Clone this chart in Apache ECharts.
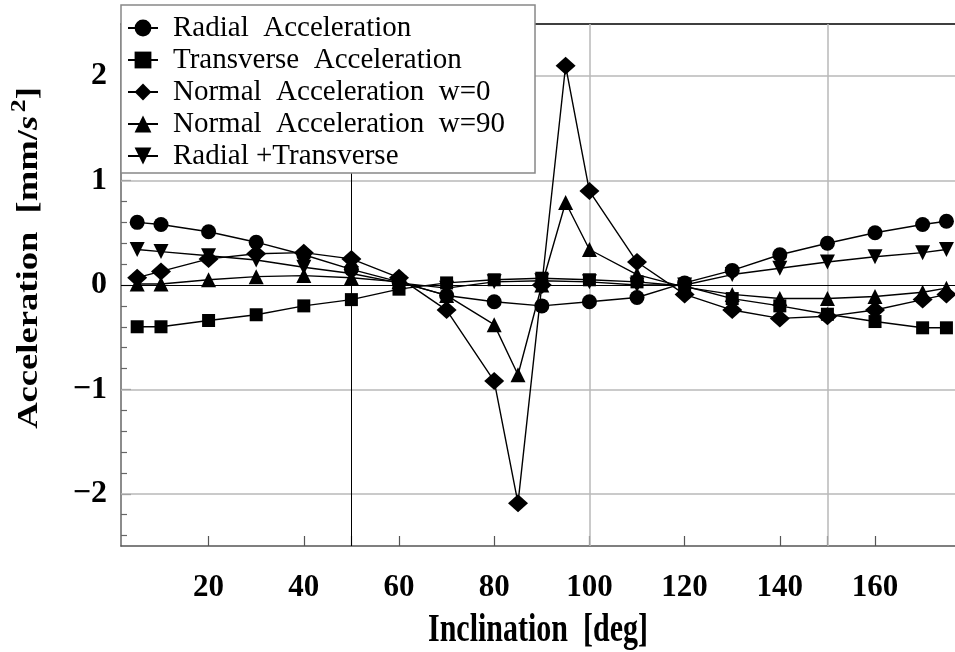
<!DOCTYPE html>
<html>
<head>
<meta charset="utf-8">
<script src="https://cdn.jsdelivr.net/npm/echarts@6/dist/echarts.min.js"></script>
<style>
  html, body { margin: 0; padding: 0; background: #fff; }
  #chart { width: 955px; height: 652px; }
</style>
</head>
<body>
<div id="chart"></div>
<script>
// Inclination sample points (deg)
const inclination = [5, 10, 20, 30, 40, 50, 60, 70, 80, 90, 100, 110, 120, 130, 140, 150, 160, 170, 175];
const inclinationFine = [5, 10, 20, 30, 40, 50, 60, 70, 80, 85, 90, 95, 100, 110, 120, 130, 140, 150, 160, 170, 175];

// Accelerations in mm/s^2
const radial     = [0.60, 0.58, 0.51, 0.41, 0.29, 0.15, 0.03, -0.10, -0.16, -0.20, -0.16, -0.12, 0.02, 0.14, 0.29, 0.40, 0.50, 0.58, 0.61];
const transverse = [-0.40, -0.40, -0.34, -0.285, -0.20, -0.14, -0.04, 0.02, 0.05, 0.065, 0.05, 0.03, -0.01, -0.13, -0.20, -0.28, -0.35, -0.41, -0.41];
const radTrans   = [0.34, 0.32, 0.28, 0.24, 0.17, 0.11, 0.02, -0.03, 0.03, 0.04, 0.03, 0.0, 0.0, 0.10, 0.16, 0.22, 0.27, 0.31, 0.34];
const normalW0   = [0.07, 0.13, 0.25, 0.30, 0.31, 0.25, 0.07, -0.24, -0.92, -2.09, 0.0, 2.10, 0.90, 0.22, -0.09, -0.24, -0.32, -0.30, -0.24, -0.14, -0.09];
const normalW90  = [0.01, 0.01, 0.05, 0.08, 0.09, 0.07, 0.03, -0.10, -0.38, -0.86, 0.0, 0.79, 0.34, 0.10, -0.02, -0.09, -0.13, -0.13, -0.11, -0.07, -0.03];

// Axis labelling
const xTickLabels = [20, 40, 60, 80, 100, 120, 140, 160];
const xTicks = [20, 40, 50, 60, 80, 100, 120, 140, 150, 160];
const yTickLabels = [-2, -1, 0, 1, 2];
const xGridGray = [100, 150];
const xGridBlack = [50];
const yGridGray = [-2, -1, 1, 2];
const yGridBlack = [0];

const names = [
  'Radial  Acceleration',
  'Transverse  Acceleration',
  'Normal  Acceleration  w=0',
  'Normal  Acceleration  w=90',
  'Radial +Transverse'
];

const yMinorTicks = [];
for (let k = -12; k <= 12; k++) {
  if (k % 5 !== 0) yMinorTicks.push(+(k * 0.2).toFixed(1));
}

const zip = (xs, ys) => xs.map((x, i) => [x, ys[i]]);
const serif = '"Liberation Serif", "Times New Roman", serif';

const lineStyle = { color: '#000', width: 1.4 };
const itemStyle = { color: '#000' };

function dataSeries(name, xs, ys, symbol, size, rotate) {
  return {
    name: name,
    type: 'line',
    data: zip(xs, ys),
    symbol: symbol,
    symbolSize: size,
    symbolRotate: rotate || 0,
    showAllSymbol: true,
    lineStyle: lineStyle,
    itemStyle: itemStyle,
    z: 3
  };
}

const chart = echarts.init(document.getElementById('chart'), null, { renderer: 'canvas' });

chart.setOption({
  animation: false,
  backgroundColor: '#fff',
  grid: { left: 121, right: 0, top: 24, bottom: 106, containLabel: false },
  xAxis: [
    {
      type: 'value', min: 1.6, max: 176.8, position: 'bottom',
      axisLine: { show: true, onZero: false, lineStyle: { color: '#555', width: 1.5 } },
      axisTick: { show: true, inside: true, length: 10, customValues: xTicks, lineStyle: { color: '#555', width: 1.2 } },
      axisLabel: { customValues: xTickLabels, margin: 26, color: '#000', fontSize: 31, fontWeight: 'bold', fontFamily: serif },
      splitLine: { show: false }
    },
    {
      type: 'value', min: 1.6, max: 176.8, position: 'top',
      axisLine: { show: true, onZero: false, lineStyle: { color: '#000', width: 1.5 } },
      axisTick: { show: false }, axisLabel: { show: false }, splitLine: { show: false }
    }
  ],
  yAxis: [
    {
      type: 'value', min: -2.5, max: 2.5, position: 'left',
      axisLine: { show: true, onZero: false, lineStyle: { color: '#666', width: 1.5 } },
      axisTick: { show: true, inside: true, length: 10, customValues: yTickLabels, lineStyle: { color: '#666', width: 1.2 } },
      axisLabel: {
        customValues: yTickLabels, margin: 14, color: '#000', fontSize: 32, fontWeight: 'bold', fontFamily: serif,
        formatter: v => String(v).replace('-', '\u2212')
      },
      splitLine: { show: false }
    },
    {
      type: 'value', min: -2.5, max: 2.5, position: 'left', offset: 0,
      axisLine: { show: false, onZero: false },
      axisTick: { show: true, inside: true, length: 6, customValues: yMinorTicks, lineStyle: { color: '#666', width: 1.2 } },
      axisLabel: { show: false }, splitLine: { show: false }
    }
  ],
  legend: {
    data: names,
    orient: 'vertical',
    left: 121, top: 5,
    itemWidth: 30, itemHeight: 21, itemGap: 2,
    padding: [8, 30, 2, 6],
    backgroundColor: '#fff',
    borderColor: '#888', borderWidth: 1.5,
    textStyle: { fontFamily: serif, fontSize: 29, color: '#000', lineHeight: 30, padding: [0, 0, 0, 10] },
    z: 10
  },
  series: [
    {
      name: 'gridGray', type: 'line', data: [], z: 1,
      markLine: {
        silent: true, symbol: 'none', label: { show: false }, z: 1,
        lineStyle: { color: '#b8b8b8', width: 1.5, type: 'solid' },
        data: xGridGray.map(v => ({ xAxis: v })).concat(yGridGray.map(v => ({ yAxis: v })))
      }
    },
    {
      name: 'gridBlack', type: 'line', data: [], z: 1,
      markLine: {
        silent: true, symbol: 'none', label: { show: false }, z: 1,
        lineStyle: { color: '#000', width: 1, type: 'solid' },
        data: xGridBlack.map(v => ({ xAxis: v })).concat(yGridBlack.map(v => ({ yAxis: v })))
      }
    },
    dataSeries(names[0], inclination, radial, 'circle', 15),
    dataSeries(names[1], inclination, transverse, 'rect', 13),
    dataSeries(names[2], inclinationFine, normalW0, 'diamond', [20, 18]),
    dataSeries(names[3], inclinationFine, normalW90, 'triangle', 15),
    dataSeries(names[4], inclination, radTrans, 'triangle', 15, 180)
  ],
  graphic: [
    {
      type: 'text', x: 538, y: 631, scaleY: 1.35,
      style: { text: 'Inclination  [deg]', font: 'bold 30px ' + serif, fill: '#000', align: 'center', verticalAlign: 'middle' }
    },
    {
      type: 'text', x: 29, y: 258, rotation: Math.PI / 2, scaleX: 1.22,
      style: {
        text: '{b|Acceleration  [mm/}{i|s}{s|2}{b|]}',
        align: 'center', verticalAlign: 'middle', fill: '#000',
        rich: {
          b: { font: 'bold 30px ' + serif, lineHeight: 40, fill: '#000' },
          i: { font: 'italic bold 30px ' + serif, lineHeight: 40, fill: '#000' },
          s: { font: 'bold 21px ' + serif, lineHeight: 22, verticalAlign: 'top', fill: '#000', padding: [0, 0, 0, 3] }
        }
      }
    }
  ]
});
</script>
</body>
</html>
